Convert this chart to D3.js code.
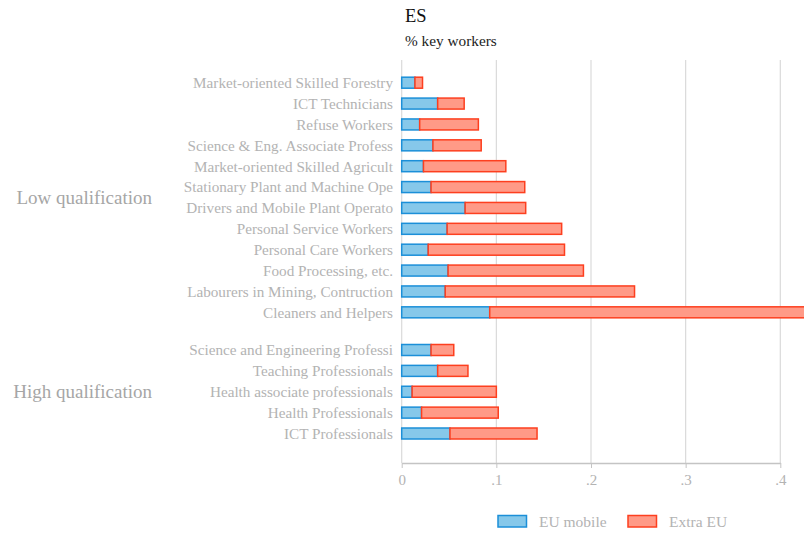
<!DOCTYPE html>
<html>
<head>
<meta charset="utf-8">
<script src="https://cdn.jsdelivr.net/npm/d3@7"></script>
<style>
  html, body { margin: 0; padding: 0; background: #fff; }
  svg { display: block; }
  text { font-family: "Liberation Serif", "DejaVu Serif", serif; }
</style>
</head>
<body>
<svg id="chart" width="804" height="535"></svg>
<script>
// ---- data ----
const lowCategories = [
  "Market-oriented Skilled Forestry",
  "ICT Technicians",
  "Refuse Workers",
  "Science & Eng. Associate Profess",
  "Market-oriented Skilled Agricult",
  "Stationary Plant and Machine Ope",
  "Drivers and Mobile Plant Operato",
  "Personal Service Workers",
  "Personal Care Workers",
  "Food Processing, etc.",
  "Labourers in Mining, Contruction",
  "Cleaners and Helpers"
];
const lowEUmobile = [0.014, 0.038, 0.019, 0.033, 0.023, 0.031, 0.067, 0.048, 0.028, 0.049, 0.046, 0.093];
const lowExtraEU  = [0.008, 0.028, 0.062, 0.051, 0.087, 0.099, 0.064, 0.121, 0.144, 0.143, 0.200, 0.370];

const highCategories = [
  "Science and Engineering Professi",
  "Teaching Professionals",
  "Health associate professionals",
  "Health Professionals",
  "ICT Professionals"
];
const highEUmobile = [0.031, 0.038, 0.011, 0.021, 0.051];
const highExtraEU  = [0.024, 0.032, 0.089, 0.081, 0.092];

const groupLabels = ["Low qualification", "High qualification"];
const seriesNames = ["EU mobile", "Extra EU"];
const xTicks = [0, 0.1, 0.2, 0.3, 0.4];
const xTickLabels = ["0", ".1", ".2", ".3", ".4"];

const title = "ES";
const subtitle = "% key workers";

// ---- layout ----
const svg = d3.select("#chart");
const plotLeft = 401.7, plotTop = 60, plotBottom = 463;
const gap = 0.805; // extra slot gap between groups

const rows = [];
lowCategories.forEach((c, i) => rows.push({cat: c, eu: lowEUmobile[i], ex: lowExtraEU[i], slot: i, group: 0}));
highCategories.forEach((c, i) => rows.push({cat: c, eu: highEUmobile[i], ex: highExtraEU[i], slot: lowCategories.length + gap + i, group: 1}));

const lastSlot = lowCategories.length + gap + highCategories.length - 1;
const y = d3.scaleLinear().domain([0, lastSlot]).range([82.7, 433.5]);
const x = d3.scaleLinear().domain([0, 0.4]).range([plotLeft, 780.3]);

const colors = {
  euFill: "#86c8ea", euStroke: "#1b8fd8",
  exFill: "#ff9a87", exStroke: "#fd3f1f"
};
const textGray = "#b3b3b3";
const barH = 11;

// gridlines
svg.append("g").selectAll("line")
  .data(xTicks)
  .join("line")
  .attr("x1", d => x(d)).attr("x2", d => x(d))
  .attr("y1", plotTop).attr("y2", plotBottom)
  .attr("stroke", "#dadada").attr("stroke-width", 1.2);

// x axis
const xAxis = d3.axisBottom(x)
  .tickValues(xTicks)
  .tickFormat((d, i) => xTickLabels[i])
  .tickSize(5)
  .tickSizeOuter(0);
const gx = svg.append("g").attr("transform", `translate(0,${plotBottom})`).call(xAxis);
gx.select(".domain").attr("stroke", "#c4c4c4").attr("stroke-width", 1.5);
gx.selectAll(".tick line").attr("stroke", "#c4c4c4");
gx.selectAll(".tick text")
  .attr("fill", textGray)
  .attr("font-size", 15)
  .attr("font-family", "Liberation Serif, serif")
  .attr("dy", "0.95em");

// bars
const bars = svg.append("g");
bars.selectAll("rect.eu")
  .data(rows)
  .join("rect")
  .attr("class", "eu")
  .attr("x", x(0))
  .attr("y", d => y(d.slot) - barH / 2)
  .attr("width", d => x(d.eu) - x(0))
  .attr("height", barH)
  .attr("fill", colors.euFill)
  .attr("stroke", colors.euStroke)
  .attr("stroke-width", 1.5);
bars.selectAll("rect.ex")
  .data(rows)
  .join("rect")
  .attr("class", "ex")
  .attr("x", d => x(d.eu))
  .attr("y", d => y(d.slot) - barH / 2)
  .attr("width", d => x(d.eu + d.ex) - x(d.eu))
  .attr("height", barH)
  .attr("fill", colors.exFill)
  .attr("stroke", colors.exStroke)
  .attr("stroke-width", 1.5);

// category labels
svg.append("g").selectAll("text")
  .data(rows)
  .join("text")
  .attr("x", 393)
  .attr("y", d => y(d.slot))
  .attr("dy", "0.35em")
  .attr("text-anchor", "end")
  .attr("fill", textGray)
  .attr("font-size", 15.2)
  .text(d => d.cat);

// group labels
const groupCenters = [
  (y(0) + y(lowCategories.length - 1)) / 2,
  (y(lowCategories.length + gap) + y(lastSlot)) / 2
];
svg.append("g").selectAll("text")
  .data(groupLabels)
  .join("text")
  .attr("x", 152)
  .attr("y", (d, i) => groupCenters[i])
  .attr("dy", "0.35em")
  .attr("text-anchor", "end")
  .attr("fill", "#a6a6a6")
  .attr("font-size", 19)
  .text(d => d);

// title
svg.append("text")
  .attr("x", 405).attr("y", 21.5)
  .attr("fill", "#111")
  .attr("font-size", 18.5)
  .text(title);
svg.append("text")
  .attr("x", 405).attr("y", 45.5)
  .attr("fill", "#222")
  .attr("font-size", 15.3)
  .text(subtitle);

// legend
const legend = svg.append("g");
const legendItems = [
  {name: seriesNames[0], fill: colors.euFill, stroke: colors.euStroke, x: 498},
  {name: seriesNames[1], fill: colors.exFill, stroke: colors.exStroke, x: 628}
];
legendItems.forEach(it => {
  legend.append("rect")
    .attr("x", it.x).attr("y", 515.5)
    .attr("width", 28.5).attr("height", 11.5)
    .attr("fill", it.fill).attr("stroke", it.stroke).attr("stroke-width", 1.5);
  legend.append("text")
    .attr("x", it.x + 41).attr("y", 521.5)
    .attr("dy", "0.35em")
    .attr("fill", textGray)
    .attr("font-size", 15.5)
    .text(it.name);
});
</script>
</body>
</html>
